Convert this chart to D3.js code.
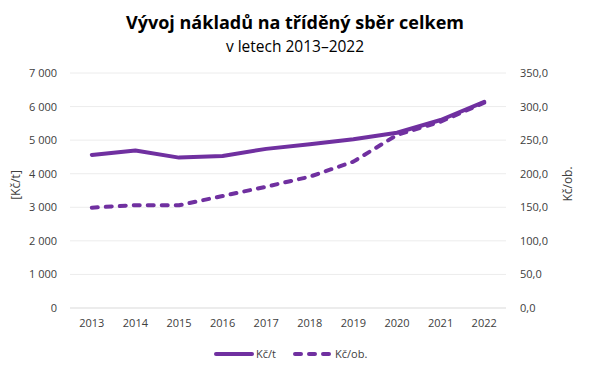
<!DOCTYPE html>
<html>
<head>
<meta charset="utf-8">
<style>
body { margin: 0; background: white; }
text { font-family: "Open Sans", "Liberation Sans", sans-serif; }
</style>
<script src="https://d3js.org/d3.v7.min.js"></script>
</head>
<body>
<div id="chart"></div>
<script>
// data
var years = ["2013", "2014", "2015", "2016", "2017", "2018", "2019", "2020", "2021", "2022"];
var costPerTonne = [4560, 4690, 4480, 4530, 4740, 4880, 5025, 5220, 5600, 6140];
var costPerPerson = [149.4, 153.2, 153.0, 166.8, 180.7, 195.6, 218.0, 257.7, 277.5, 305.8];
var leftTicks = [0, 1000, 2000, 3000, 4000, 5000, 6000, 7000];
var rightTicks = [0, 50, 100, 150, 200, 250, 300, 350];
var seriesNames = ["Kč/t", "Kč/ob."];

var W = 590, H = 372;
var margin = {top: 73, right: 84, bottom: 64, left: 70};
var purple = "#7030A0";

var svg = d3.select("#chart").append("svg")
    .attr("width", W)
    .attr("height", H)
    .style("background", "white");

var x = d3.scaleBand().domain(years).range([margin.left, W - margin.right]);
var yL = d3.scaleLinear().domain([0, 7000]).range([H - margin.bottom, margin.top]);
var yR = d3.scaleLinear().domain([0, 350]).range([H - margin.bottom, margin.top]);

var fmtL = function(d) { return d3.format(",")(d).replace(/,/g, " "); };
var fmtR = function(d) { return d3.format(".1f")(d).replace(".", ","); };

// gridlines
svg.append("g").selectAll("line")
    .data(leftTicks)
    .enter().append("line")
    .attr("x1", margin.left).attr("x2", W - margin.right)
    .attr("y1", function(d) { return yL(d); })
    .attr("y2", function(d) { return yL(d); })
    .attr("stroke", function(d) { return d == 0 ? "#d9d9d9" : "#ececec"; })
    .attr("stroke-width", 1);

// axes
var axL = svg.append("g")
    .attr("transform", "translate(" + (margin.left - 13) + ",0)")
    .call(d3.axisLeft(yL).tickValues(leftTicks).tickFormat(fmtL).tickSize(0).tickPadding(0));
var axR = svg.append("g")
    .attr("transform", "translate(" + (W - margin.right + 14) + ",0)")
    .call(d3.axisRight(yR).tickValues(rightTicks).tickFormat(fmtR).tickSize(0).tickPadding(0));
var axX = svg.append("g")
    .attr("transform", "translate(0," + (H - margin.bottom + 11) + ")")
    .call(d3.axisBottom(x).tickSize(0).tickPadding(0));
[axL, axR, axX].forEach(function(a) {
    a.select(".domain").remove();
    a.selectAll("text").attr("fill", "#404040").style("font-size", "11px")
        .style("font-family", "\"Open Sans\", sans-serif");
});

// lines
var cx = function(d, i) { return x(years[i]) + x.bandwidth() / 2; };
var lineL = d3.line().x(cx).y(function(d) { return yL(d); });
var lineR = d3.line().x(cx).y(function(d) { return yR(d); });

svg.append("path")
    .attr("d", lineL(costPerTonne))
    .attr("fill", "none")
    .attr("stroke", purple)
    .attr("stroke-width", 4)
    .attr("stroke-linejoin", "round")
    .attr("stroke-linecap", "round");

svg.append("path")
    .attr("d", lineR(costPerPerson))
    .attr("fill", "none")
    .attr("stroke", purple)
    .attr("stroke-width", 4)
    .attr("stroke-dasharray", "6,8")
    .attr("stroke-linejoin", "round")
    .attr("stroke-linecap", "round");

// titles
svg.append("text")
    .attr("x", W / 2).attr("y", 29)
    .attr("text-anchor", "middle")
    .style("font-size", "18px").style("font-weight", "bold")
    .attr("fill", "#000")
    .text("Vývoj nákladů na tříděný sběr celkem");
svg.append("text")
    .attr("x", W / 2).attr("y", 52)
    .attr("text-anchor", "middle")
    .style("font-size", "15.5px")
    .attr("fill", "#000")
    .text("v letech 2013–2022");

// axis titles
svg.append("text")
    .attr("transform", "translate(20,185) rotate(-90)")
    .attr("text-anchor", "middle")
    .style("font-size", "12px")
    .attr("fill", "#404040")
    .text("[Kč/t]");
svg.append("text")
    .attr("transform", "translate(572,184) rotate(-90)")
    .attr("text-anchor", "middle")
    .style("font-size", "12px")
    .attr("fill", "#404040")
    .text("Kč/ob.");

// legend
var legend = svg.append("g");
var legItems = [
    {name: seriesNames[0], x0: 216, x1: 252, dash: null},
    {name: seriesNames[1], x0: 295, x1: 331, dash: "6,8"}
];
legItems.forEach(function(it) {
    legend.append("line")
        .attr("x1", it.x0).attr("x2", it.x1)
        .attr("y1", 354).attr("y2", 354)
        .attr("stroke", purple)
        .attr("stroke-width", 4)
        .attr("stroke-linecap", "round")
        .attr("stroke-dasharray", it.dash);
    legend.append("text")
        .attr("x", it.x1 + 4).attr("y", 358)
        .style("font-size", "11px")
        .attr("fill", "#404040")
        .text(it.name);
});
</script>
</body>
</html>
